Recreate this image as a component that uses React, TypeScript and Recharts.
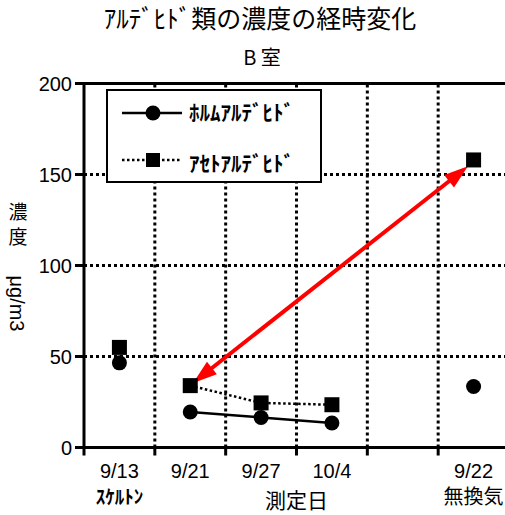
import { Legend, ReferenceLine, Scatter, ScatterChart, XAxis, YAxis } from "recharts";

const JP = '"Noto Sans CJK JP", sans-serif';
const LAT = '"Liberation Sans", Arial, sans-serif';

const title = "ｱﾙﾃﾞﾋﾄﾞ類の濃度の経時変化";
const subtitle = "B 室";
const xTitle = "測定日";
const yTitle = ["濃", "度"];
const yUnit = "μg/m3";

// measurement dates and where they sit on the x scale
const dates = ["9/13", "9/21", "9/27", "10/4", "9/22"];
const datePositions = [0.5, 1.5, 2.5, 3.5, 5.5];
const dateNotes = ["ｽｹﾙﾄﾝ", "", "", "", "無換気"];
// which dates are joined by the series line
const joined = [false, true, true, true, false];

const seriesNames = ["ﾎﾙﾑｱﾙﾃﾞﾋﾄﾞ", "ｱｾﾄｱﾙﾃﾞﾋﾄﾞ"];
const formaldehyde = [46.5, 19.5, 16.5, 13.5, 33.5];
const acetaldehyde = [55, 34, 24.5, 23.5, 158];

const yTicks = [0, 50, 100, 150, 200];
const xTicks = [0, 0.5, 1, 1.5, 2, 2.5, 3, 3.5, 4, 4.5, 5, 5.5, 6];
const gridX = [1, 2, 3, 4, 5];
const gridY = [50, 100, 150];
// red double arrow between the two acetaldehyde readings
const arrowEnds = [
  { x: 1.54, y: 35.5 },
  { x: 5.42, y: 154.5 },
];

const rows = (vals: number[], linked: boolean) =>
  datePositions
    .map((x, i) => ({ x, y: vals[i] }))
    .filter((_, i) => joined[i] === linked);

const Dot = (p: any) => <circle cx={p.cx} cy={p.cy} r={7.5} fill="#000" />;
const Box = (p: any) => (
  <rect x={p.cx - 7.5} y={p.cy - 7.5} width={15} height={15} fill="#000" />
);

const XTick = ({ x, y, payload }: any) => {
  const v = payload.value;
  if (Number.isInteger(v)) {
    return <line x1={x} x2={x} y1={y} y2={y + 8} stroke="#000" strokeWidth={3} />;
  }
  const i = datePositions.indexOf(v);
  if (i < 0) return <g />;
  return (
    <g>
      <text x={x} y={y + 30} textAnchor="middle" fontSize={20} fontFamily={LAT} fill="#000">
        {dates[i]}
      </text>
      {dateNotes[i] && (
        <text
          x={x}
          y={y + 56}
          textAnchor="middle"
          fontSize={i === 0 ? 19 : 20}
          fontWeight={i === 0 ? 700 : 400}
          fontFamily={JP}
          fill="#000"
        >
          {dateNotes[i]}
        </text>
      )}
    </g>
  );
};

const Arrow = (p: any) => {
  const { x1, y1, x2, y2 } = p;
  const dx = x2 - x1;
  const dy = y2 - y1;
  const len = Math.hypot(dx, dy);
  const ux = dx / len;
  const uy = dy / len;
  const head = 24;
  const half = 8;
  const tip = (tx: number, ty: number, sx: number, sy: number) => {
    const bx = tx - sx * head;
    const by = ty - sy * head;
    return `${tx},${ty} ${bx - sy * half},${by + sx * half} ${bx + sy * half},${by - sx * half}`;
  };
  return (
    <g>
      <line
        x1={x1 + ux * 18}
        y1={y1 + uy * 18}
        x2={x2 - ux * 18}
        y2={y2 - uy * 18}
        stroke="#ff0000"
        strokeWidth={4}
      />
      <polygon points={tip(x2, y2, ux, uy)} fill="#ff0000" />
      <polygon points={tip(x1, y1, -ux, -uy)} fill="#ff0000" />
    </g>
  );
};

const LegendBox = () => (
  <div
    style={{
      boxSizing: "border-box",
      width: 216,
      height: 94,
      border: "2px solid #000",
      background: "#fff",
    }}
  >
    <svg width={212} height={90} style={{ display: "block" }}>
      <line x1={14} x2={74} y1={22} y2={22} stroke="#000" strokeWidth={2.5} />
      <circle cx={45} cy={22} r={7.5} fill="#000" />
      <text x={81} y={29} fontSize={21} fontWeight={700} fontFamily={JP} fill="#000">
        {seriesNames[0]}
      </text>
      <line x1={14} x2={74} y1={69} y2={69} stroke="#000" strokeWidth={2.5} strokeDasharray="2.5 2.5" />
      <rect x={38} y={62} width={14} height={14} fill="#000" />
      <text x={81} y={80} fontSize={21} fontWeight={700} fontFamily={JP} fill="#000">
        {seriesNames[1]}
      </text>
    </svg>
  </div>
);

export default function App() {
  return (
    <div
      style={{
        position: "absolute",
        left: 0,
        top: 0,
        width: 505,
        height: 515,
        overflow: "hidden",
        background: "#fff",
      }}
    >
      <ScatterChart
        width={512}
        height={515}
        margin={{ top: 83.5, right: 3, bottom: 7.5, left: 0 }}
      >
        <XAxis
          dataKey="x"
          type="number"
          domain={[0, 6]}
          ticks={xTicks}
          interval={0}
          tickLine={false}
          tickSize={0}
          tickMargin={0}
          tick={<XTick />}
          height={60}
          axisLine={{ stroke: "#000", strokeWidth: 3 }}
          label={({ viewBox }: any) => (
            <text
              x={viewBox.x + viewBox.width / 2}
              y={viewBox.y + 60}
              textAnchor="middle"
              fontSize={21}
              fontFamily={JP}
              fill="#000"
            >
              {xTitle}
            </text>
          )}
        />
        <YAxis
          dataKey="y"
          type="number"
          domain={[0, 200]}
          ticks={yTicks}
          width={84}
          tickSize={9}
          tickMargin={3}
          tick={{ fontSize: 20, fill: "#000", fontFamily: LAT }}
          tickLine={{ stroke: "#000", strokeWidth: 3 }}
          axisLine={{ stroke: "#000", strokeWidth: 3 }}
          label={({ viewBox }: any) => (
            <g>
              {yTitle.map((c, i) => (
                <text
                  key={c}
                  x={18}
                  y={viewBox.y + 135 + i * 25}
                  textAnchor="middle"
                  fontSize={19}
                  fontFamily={JP}
                  fill="#000"
                >
                  {c}
                </text>
              ))}
              <text
                x={17}
                y={viewBox.y + 220}
                textAnchor="middle"
                dominantBaseline="central"
                fontSize={20}
                fontFamily={LAT}
                fill="#000"
                transform={`rotate(90 17 ${viewBox.y + 220})`}
              >
                {yUnit}
              </text>
            </g>
          )}
        />
        {gridY.map((v) => (
          <ReferenceLine key={`h${v}`} y={v} stroke="#000" strokeWidth={3} strokeDasharray="3 3" />
        ))}
        {gridX.map((v) => (
          <ReferenceLine key={`v${v}`} x={v} stroke="#000" strokeWidth={3} strokeDasharray="3 3" />
        ))}
        <ReferenceLine y={200} stroke="#000" strokeWidth={3} />
        <Legend
          layout="horizontal"
          verticalAlign="middle"
          align="center"
          wrapperStyle={{ left: 106, top: 89, width: 216, height: 94 }}
          content={() => <LegendBox />}
        />
        <Scatter
          name={seriesNames[0]}
          data={rows(formaldehyde, true)}
          shape={Dot}
          line={{ stroke: "#000", strokeWidth: 2.5 }}
          lineType="joint"
          isAnimationActive={false}
        />
        <Scatter
          name={seriesNames[1]}
          data={rows(acetaldehyde, true)}
          shape={Box}
          line={{ stroke: "#000", strokeWidth: 2.5, strokeDasharray: "2.5 2.5" }}
          lineType="joint"
          isAnimationActive={false}
        />
        <Scatter
          legendType="none"
          data={rows(formaldehyde, false)}
          shape={Dot}
          isAnimationActive={false}
        />
        <Scatter
          legendType="none"
          data={rows(acetaldehyde, false)}
          shape={Box}
          isAnimationActive={false}
        />
        <ReferenceLine segment={arrowEnds} shape={Arrow} ifOverflow="visible" />
      </ScatterChart>
      <svg
        width={505}
        height={80}
        style={{ position: "absolute", left: 0, top: 0, pointerEvents: "none" }}
      >
        <text x={260} y={28} textAnchor="middle" fontSize={25} fontFamily={JP} fill="#000">
          {title}
        </text>
        <text x={262} y={65} textAnchor="middle" fontSize={20} fontFamily={JP} fill="#000">
          {subtitle}
        </text>
      </svg>
    </div>
  );
}
